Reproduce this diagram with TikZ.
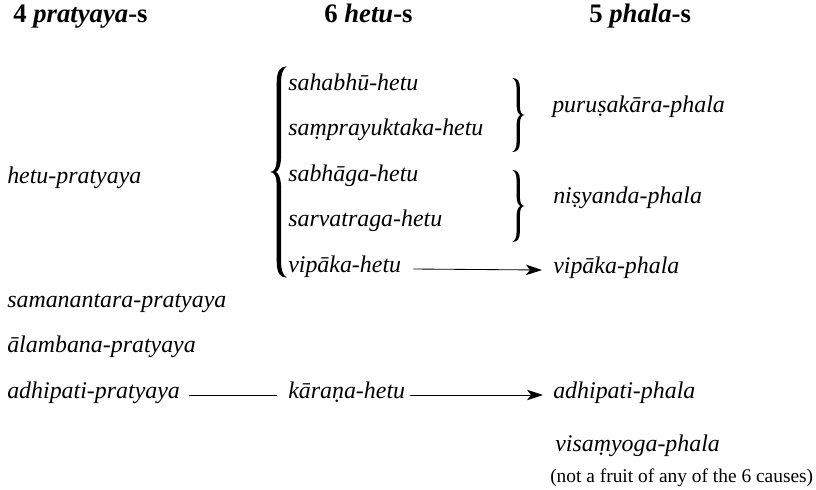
\documentclass[tikz,border=0pt]{standalone}
\usepackage{fontspec}
\setmainfont{Liberation Serif}
\usetikzlibrary{arrows.meta}

% filled curly brace: cusp at #1, half height #2, width #3 (negative = closing), curl #4
\newcommand{\curlybrace}[4]{%
  \begin{scope}[shift={#1}, xscale=#3]
    \fill (0,0)
      .. controls (0.3,0) and (0.4,0.3*#4) .. (0.4,#4)
      -- (0.4,#2-#4)
      .. controls (0.4,#2-0.3*#4) and (0.6,#2) .. (1,#2)
      .. controls (0.75,#2-0.15*#4) and (0.66,#2-0.5*#4) .. (0.66,#2-#4)
      -- (0.66,#4)
      .. controls (0.66,0.4*#4) and (0.5,0.05*#4) .. (0.35,0)
      .. controls (0.5,-0.05*#4) and (0.66,-0.4*#4) .. (0.66,-#4)
      -- (0.66,-#2+#4)
      .. controls (0.66,-#2+0.5*#4) and (0.75,-#2+0.15*#4) .. (1,-#2)
      .. controls (0.6,-#2) and (0.4,-#2+0.3*#4) .. (0.4,-#2+#4)
      -- (0.4,-#4)
      .. controls (0.4,-0.3*#4) and (0.3,0) .. cycle;
  \end{scope}}

\tikzset{
  term/.style={anchor=base west, inner sep=0pt, font=\itshape\fontsize{17}{20}\selectfont},
  head/.style={anchor=base west, inner sep=0pt, font=\bfseries\fontsize{19}{22}\selectfont},
  note/.style={anchor=base west, inner sep=0pt, font=\fontsize{13.8}{16}\selectfont},
  link/.style={line width=0.6pt},
  yields/.style={link, -{Stealth[length=4mm,width=2.6mm,inset=1mm]}},
}

\begin{document}
\begin{tikzpicture}
    \useasboundingbox (0,0) rectangle (20.4,-12.225);

    % column heads
    \node[head] (hp) at (0.325,-0.55) {4 \textit{pratyaya}-s};
    \node[head] (hh) at (8.1,-0.55) {6 \textit{hetu}-s};
    \node[head] (hf) at (14.725,-0.55) {5 \textit{phala}-s};

    % conditions
    \node[term] (hetup) at (0.175,-4.575) {hetu-pratyaya};
    \node[term] (samp) at (0.175,-7.675) {samanantara-pratyaya};
    \node[term] (alap) at (0.175,-8.8) {ālambana-pratyaya};
    \node[term] (adhip) at (0.175,-9.95) {adhipati-pratyaya};

    % causes
    \node[term] (sahah) at (7.2,-2.25) {sahabhū-hetu};
    \node[term] (samph) at (7.2,-3.39) {saṃprayuktaka-hetu};
    \node[term] (sabhh) at (7.2,-4.525) {sabhāga-hetu};
    \node[term] (sarvh) at (7.2,-5.66) {sarvatraga-hetu};
    \node[term] (viph) at (7.2,-6.8) {vipāka-hetu};
    \node[term] (karh) at (7.2,-9.95) {kāraṇa-hetu};

    % fruits
    \node[term] (purf) at (13.8,-2.8) {puruṣakāra-phala};
    \node[term] (nisf) at (13.825,-5.075) {niṣyanda-phala};
    \node[term] (vipf) at (13.825,-6.825) {vipāka-phala};
    \node[term] (adhf) at (13.825,-9.95) {adhipati-phala};
    \node[term] (visf) at (13.875,-11.275) {visaṃyoga-phala};
    \node[note] (visn) at (13.75,-12.05) {(not a fruit of any of the 6 causes)};

    % braces
    \curlybrace{(6.75,-4.3)}{2.64}{0.42}{0.4}
    \curlybrace{(13.125,-2.875)}{0.925}{-0.32}{0.25}
    \curlybrace{(13.125,-5.15)}{0.9}{-0.32}{0.25}

    % connectors
    \draw[yields] ([shift={(0.3,0.075)}]viph.base east) -- ([shift={(-0.275,0.075)}]vipf.base west);
    \draw[link] ([shift={(0.225,0.075)}]adhip.base east) -- ([shift={(-0.275,0.075)}]karh.base west);
    \draw[yields] ([shift={(0.125,0.075)}]karh.base east) -- ([shift={(-0.25,0.075)}]adhf.base west);
\end{tikzpicture}
\end{document}
